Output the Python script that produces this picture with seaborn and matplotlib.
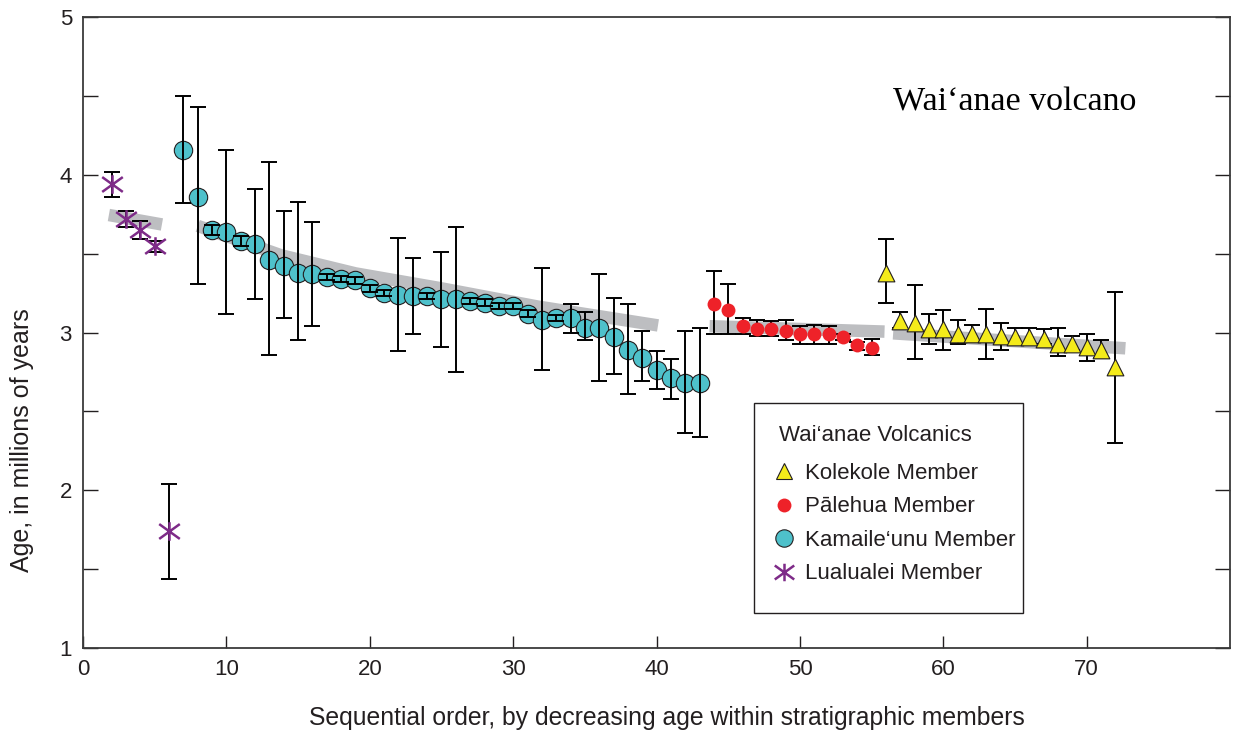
import numpy as np
import pandas as pd
import matplotlib
matplotlib.use("Agg")
import matplotlib.pyplot as plt
from matplotlib.path import Path
from matplotlib.lines import Line2D
from matplotlib.patches import Rectangle
from matplotlib.ticker import MultipleLocator
import seaborn as sns

# ---------------------------------------------------------------- data
# Lualualei Member
lua_order = [2, 3, 4, 5, 6]
lua_age = [3.94, 3.72, 3.65, 3.55, 1.74]
lua_lo = [3.86, 3.67, 3.59, 3.51, 1.44]
lua_hi = [4.02, 3.77, 3.71, 3.58, 2.04]

# Kamaile'unu Member
kam_order = list(range(7, 44))
kam_age = [4.16, 3.86, 3.65, 3.64, 3.58, 3.56, 3.46, 3.42, 3.38, 3.37,
           3.35, 3.34, 3.33, 3.28, 3.25, 3.24, 3.23, 3.23, 3.21, 3.21,
           3.20, 3.19, 3.17, 3.17, 3.12, 3.08, 3.09, 3.09, 3.03, 3.03,
           2.97, 2.89, 2.84, 2.76, 2.71, 2.68, 2.68]
kam_lo = [3.82, 3.31, 3.62, 3.12, 3.55, 3.21, 2.86, 3.09, 2.95, 3.04,
          3.33, 3.32, 3.31, 3.26, 3.23, 2.88, 2.99, 3.21, 2.91, 2.75,
          3.18, 3.17, 3.15, 3.15, 3.10, 2.76, 3.07, 3.00, 2.95, 2.69,
          2.74, 2.61, 2.69, 2.64, 2.58, 2.36, 2.34]
kam_hi = [4.50, 4.43, 3.68, 4.16, 3.61, 3.91, 4.08, 3.77, 3.83, 3.70,
          3.37, 3.36, 3.35, 3.30, 3.27, 3.60, 3.47, 3.25, 3.51, 3.67,
          3.22, 3.21, 3.19, 3.19, 3.14, 3.41, 3.11, 3.18, 3.13, 3.37,
          3.22, 3.18, 3.01, 2.88, 2.83, 3.01, 3.03]

# Palehua Member
pal_order = list(range(44, 56))
pal_age = [3.18, 3.14, 3.04, 3.02, 3.02, 3.01, 2.99, 2.99, 2.99, 2.97, 2.92, 2.90]
pal_lo = [2.99, 2.99, 2.99, 2.98, 2.98, 2.95, 2.93, 2.93, 2.93, 2.95, 2.89, 2.86]
pal_hi = [3.39, 3.31, 3.09, 3.08, 3.07, 3.08, 3.04, 3.05, 3.04, 2.99, 2.94, 2.96]

# Kolekole Member
kol_order = list(range(56, 73))
kol_age = [3.38, 3.07, 3.06, 3.02, 3.02, 2.99, 2.99, 2.99, 2.98, 2.97,
           2.97, 2.96, 2.93, 2.93, 2.91, 2.89, 2.78]
kol_lo = [3.19, 3.03, 2.83, 2.93, 2.89, 2.93, 2.94, 2.83, 2.89, 2.93,
          2.93, 2.93, 2.85, 2.89, 2.82, 2.84, 2.30]
kol_hi = [3.59, 3.13, 3.30, 3.12, 3.14, 3.08, 3.05, 3.15, 3.06, 3.03,
          3.03, 3.02, 3.03, 2.98, 2.99, 2.95, 3.26]

# Trend bands for each member
lua_trend_x = [1.8, 5.5]
lua_trend_y = [3.745, 3.685]
kam_trend_x = [8.0, 13.8, 19.0, 25.0, 31.7, 40.1]
kam_trend_y = [3.676, 3.49, 3.375, 3.28, 3.165, 3.045]
pal_trend_x = [43.7, 55.9]
pal_trend_y = [3.04, 3.006]
kol_trend_x = [56.5, 72.7]
kol_trend_y = [2.995, 2.90]

members = ["Kolekole Member", "Pālehua Member", "Kamaile‘unu Member", "Lualualei Member"]

# ---------------------------------------------------------------- style
sns.set_theme(style="white")
plt.rcParams["font.family"] = ["Liberation Sans", "DejaVu Sans"]

YELLOW = "#F4EB1A"
RED = "#EE2229"
CYAN = "#4EC1CB"
PURPLE = "#7E2B88"
BAND = "#BDBEC1"
INK = "#231F20"

# six-armed asterisk: a flattened X with a vertical stroke
ast_path = Path(
    [(-1.0, -0.72), (1.0, 0.72), (-1.0, 0.72), (1.0, -0.72), (0.0, -0.9), (0.0, 0.9)],
    [Path.MOVETO, Path.LINETO, Path.MOVETO, Path.LINETO, Path.MOVETO, Path.LINETO],
)

fig = plt.figure(figsize=(12.36, 7.31), dpi=100)
ax = fig.add_axes([0.0672, 0.1135, 0.9280, 0.8632])

# trend bands
for tx, ty in [(lua_trend_x, lua_trend_y), (kam_trend_x, kam_trend_y),
               (pal_trend_x, pal_trend_y), (kol_trend_x, kol_trend_y)]:
    band = pd.DataFrame({"x": tx, "y": ty})
    sns.lineplot(data=band, x="x", y="y", ax=ax, color=BAND, lw=9,
                 solid_capstyle="butt", solid_joinstyle="round", zorder=1,
                 sort=False, estimator=None)


def frame(order, age, lo, hi):
    return pd.DataFrame({"order": order, "age": age, "lo": lo, "hi": hi})


def bars(df, z):
    ax.errorbar(df["order"], df["age"],
                yerr=[df["age"] - df["lo"], df["hi"] - df["age"]],
                fmt="none", ecolor="black", elinewidth=1.4, capsize=5.8,
                capthick=1.4, zorder=z)


lua = frame(lua_order, lua_age, lua_lo, lua_hi)
kam = frame(kam_order, kam_age, kam_lo, kam_hi)
pal = frame(pal_order, pal_age, pal_lo, pal_hi)
kol = frame(kol_order, kol_age, kol_lo, kol_hi)

# Lualualei
bars(lua, 2)
sns.scatterplot(data=lua, x="order", y="age", ax=ax, marker=ast_path, s=220,
                color=PURPLE, edgecolor=PURPLE, linewidth=1.8, zorder=3, legend=False)

# Kamaile'unu (error bars drawn over the symbols)
sns.scatterplot(data=kam, x="order", y="age", ax=ax, marker="o", s=175,
                color=CYAN, edgecolor=INK, linewidth=0.8, zorder=2, legend=False)
bars(kam, 3)

# Palehua
bars(pal, 2)
sns.scatterplot(data=pal, x="order", y="age", ax=ax, marker="o", s=100,
                color=RED, edgecolor=RED, linewidth=0, zorder=3, legend=False)

# Kolekole
bars(kol, 2)
sns.scatterplot(data=kol, x="order", y="age", ax=ax, marker="^", s=145,
                color=YELLOW, edgecolor=INK, linewidth=0.8, zorder=3, legend=False)

# ---------------------------------------------------------------- axes
ax.set_xlim(0, 80)
ax.set_ylim(1, 5)
ax.set_xticks(range(0, 80, 10))
ax.set_yticks([1, 2, 3, 4, 5])
ax.yaxis.set_minor_locator(MultipleLocator(0.5))
ax.tick_params(axis="x", which="both", direction="in", length=9, width=1,
               colors=INK, labelsize=16, pad=8, bottom=True, top=False)
ax.tick_params(axis="y", which="both", direction="in", length=11, width=1,
               colors=INK, labelsize=16, pad=8, left=True, right=True)
for sp in ax.spines.values():
    sp.set_color("#3a3a3a")
    sp.set_linewidth(1.3)

ax.set_xlabel("Sequential order, by decreasing age within stratigraphic members",
              fontsize=17.8, color=INK)
ax.set_ylabel("Age, in millions of years", fontsize=18, color=INK)
ax.xaxis.set_label_coords(0.509, -0.092)
ax.yaxis.set_label_coords(-0.043, 0.33)

ax.text(0.8126, 0.865, "Wai‘anae volcano", transform=ax.transAxes,
        ha="center", va="center", fontsize=24.5, color="black",
        family=["Liberation Serif", "DejaVu Serif"])

# ---------------------------------------------------------------- legend
handles = [
    Line2D([], [], ls="none", marker="^", markersize=12, markerfacecolor=YELLOW,
           markeredgecolor=INK, markeredgewidth=0.8),
    Line2D([], [], ls="none", marker="o", markersize=10, markerfacecolor=RED,
           markeredgecolor=RED, markeredgewidth=0),
    Line2D([], [], ls="none", marker="o", markersize=12.5, markerfacecolor=CYAN,
           markeredgecolor=INK, markeredgewidth=0.8),
    Line2D([], [], ls="none", marker=ast_path, markersize=14, color=PURPLE,
           markeredgewidth=1.8),
]
leg = ax.legend(handles, members, title="Wai‘anae Volcanics", loc="upper left",
                bbox_to_anchor=(0.607, 0.353), frameon=False, fontsize=16,
                title_fontsize=16, alignment="left", borderpad=0,
                borderaxespad=0, handlelength=0.4, handletextpad=0.75,
                labelspacing=0.56)
leg.get_title().set_color(INK)
for t in leg.get_texts():
    t.set_color(INK)
leg._legend_box.sep = 12

ax.add_patch(Rectangle((0.585, 0.056), 0.2345, 0.388 - 0.056, transform=ax.transAxes,
                       facecolor="white", edgecolor=INK, lw=1.0, zorder=4))
leg.set_zorder(5)

fig.savefig("out.png", dpi=100)
